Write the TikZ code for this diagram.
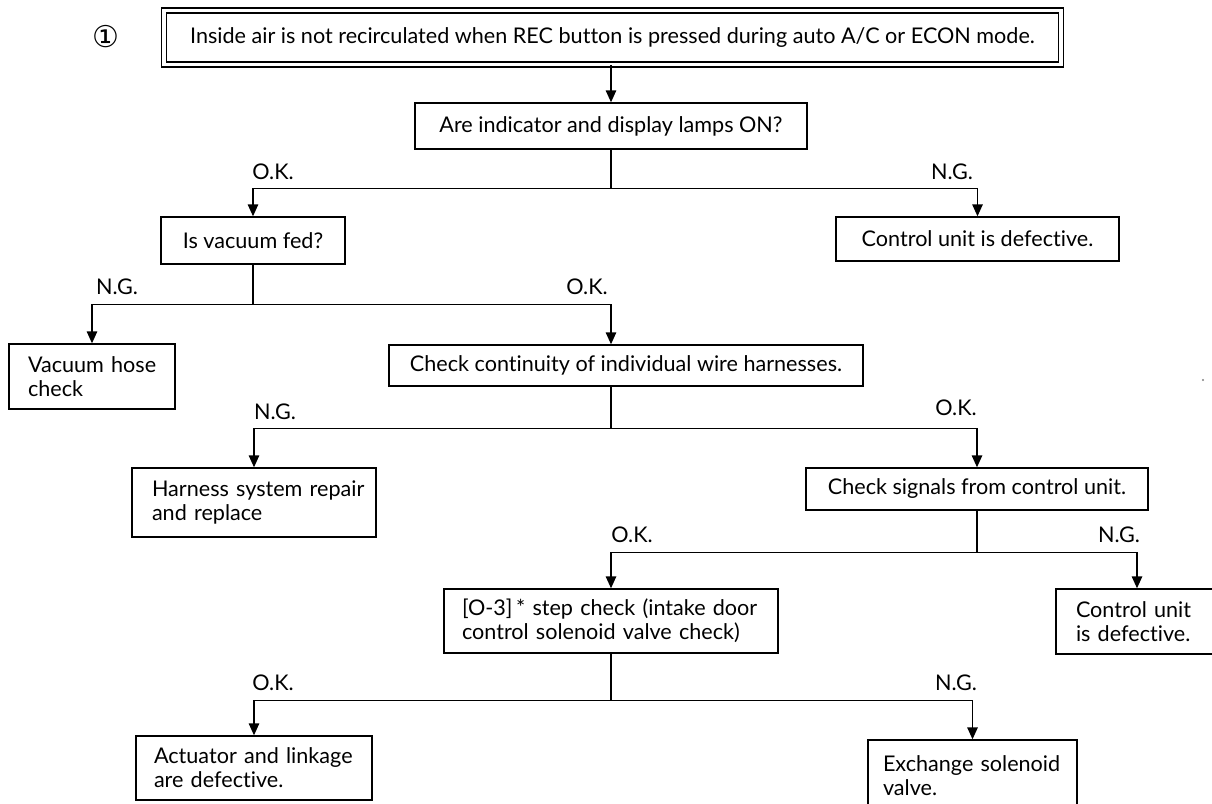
\documentclass[tikz,border=0pt]{standalone}
\usepackage{fontspec}
\setmainfont{Lato}[Ligatures=NoCommon]
\newfontfamily\djv{DejaVu Sans}
\usetikzlibrary{arrows.meta}
\newcommand\myl[1]{\mbox{#1}}
\begin{document}
\begin{tikzpicture}[x=1pt,y=-1pt,
  every node/.style={font=\fontsize{21.6}{24}\selectfont},
  box/.style={draw, line width=1.4pt, inner sep=0pt, align=center},
  lbox/.style={draw, line width=1.4pt, inner ysep=0pt, align=left},
  conn/.style={line width=1.4pt},
  arr/.style={conn, -{Triangle[length=12pt,width=10.5pt]}},
  lab/.style={inner sep=0pt}
]
\useasboundingbox (0,0) rectangle (1212,803);
\clip (0,0) rectangle (1212,803);

\node (num) at (106,37) {\djv\fontsize{30}{30}\selectfont ①};
\node[draw, double, double distance=3.5pt, line width=1.4pt, inner sep=0pt,
      minimum width=897pt, minimum height=54pt] (title) at (612.5,37.5)
      {Inside air is not recirculated when REC button is pressed during auto A/C or ECON mode.};

\node[box, minimum width=392pt, minimum height=46pt] (lamps) at (611,126) {Are indicator and display lamps ON?};
\node[box, minimum width=184pt, minimum height=47pt] (vac) at (253,240.5) {Is vacuum fed?};
\node[box, minimum width=283pt, minimum height=44pt] (ctrl1) at (977.5,239) {Control unit is defective.};
\node[lbox, inner xsep=19pt, text width=128pt, minimum height=65pt] (hose) at (92,376.5) {\myl{Vacuum hose}\\\myl{check}};
\node[box, minimum width=474pt, minimum height=41pt] (cont) at (626,365.5) {Check continuity of individual wire harnesses.};
\node[lbox, inner xsep=20pt, text width=204pt, minimum height=69pt] (harness) at (254,502.5) {\myl{Harness system repair}\\\myl{and replace}};
\node[box, minimum width=342pt, minimum height=42pt] (signals) at (977,489) {Check signals from control unit.};
\node[lbox, inner xsep=18pt, text width=298pt, minimum height=64pt] (o3) at (611,621) {\myl{[O-3]\,*\ step check (intake door}\\\myl{control solenoid valve check)}};
\node[lbox, inner xsep=20pt, text width=130pt, minimum height=65pt] (ctrl2) at (1141,621.5) {\myl{Control unit}\\\myl{is defective.}};
\node[lbox, inner xsep=18pt, text width=200pt, minimum height=64pt] (act) at (254,768) {\myl{Actuator and linkage}\\\myl{are defective.}};
\node[lbox, inner xsep=15pt, text width=179pt, minimum height=71pt] (exch) at (972.5,775.5) {\myl{Exchange solenoid}\\\myl{valve.}};

\node[lab] (l1) at (273,172) {O.K.};
\node[lab] (l2) at (952,172) {N.G.};
\node[lab] (l3) at (117,287) {N.G.};
\node[lab] (l4) at (587,287) {O.K.};
\node[lab] (l5) at (275,412) {N.G.};
\node[lab] (l6) at (956,408) {O.K.};
\node[lab] (l7) at (632,535) {O.K.};
\node[lab] (l8) at (1119,535) {N.G.};
\node[lab] (l9) at (273,683) {O.K.};
\node[lab] (l10) at (956,683) {N.G.};

\fill[gray] (1203,380) circle (1.2pt);

\coordinate (c5) at (1137,0);
\draw[arr] (title.south -| lamps.north) -- (lamps.north);
\draw[conn] (lamps.south) -- ++(0,39) coordinate (j1);
\draw[arr] (j1) -| (vac.north);
\draw[arr] (j1) -| (ctrl1.north);
\draw[conn] (vac.south) -- ++(0,40) coordinate (j2);
\draw[arr] (j2) -| (hose.north);
\draw[arr] (j2) -| (cont.north -| lamps.south);
\draw[conn] (cont.south -| lamps.south) -- ++(0,42) coordinate (j3);
\draw[arr] (j3) -| (harness.north);
\draw[arr] (j3) -| (signals.north);
\draw[conn] (signals.south) -- ++(0,42) coordinate (j4);
\draw[arr] (j4) -| (o3.north);
\draw[arr] (j4) -| (ctrl2.north -| c5);
\draw[conn] (o3.south) -- ++(0,47) coordinate (j5);
\draw[arr] (j5) -| (act.north);
\draw[arr] (j5) -| (exch.north);
\end{tikzpicture}
\end{document}
